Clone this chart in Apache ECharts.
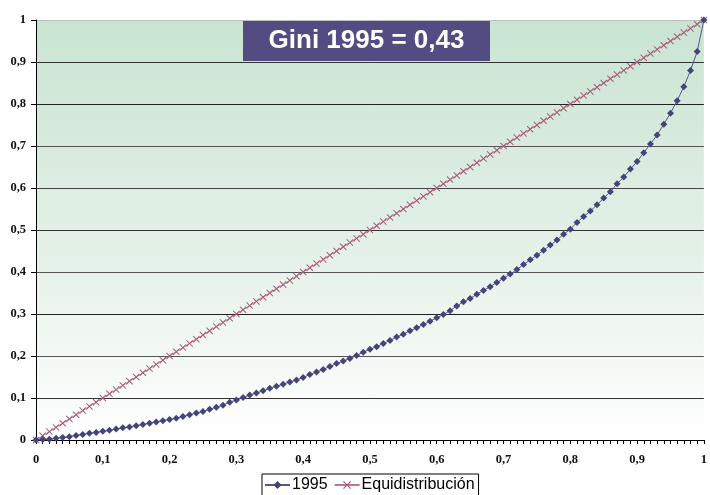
<!DOCTYPE html>
<html>
<head>
<meta charset="utf-8">
<script src="https://cdn.jsdelivr.net/npm/echarts@6/dist/echarts.min.js"></script>
<style>
  html, body { margin: 0; padding: 0; background: #fff; }
  #chart { width: 710px; height: 495px; }
</style>
</head>
<body>
<div id="chart"></div>
<script>
// population share (x) for every point of both series
const shares = [
  0, 0.01, 0.02, 0.03, 0.04, 0.05, 0.06, 0.07, 0.08, 0.09,
  0.10, 0.11, 0.12, 0.13, 0.14, 0.15, 0.16, 0.17, 0.18, 0.19,
  0.20, 0.21, 0.22, 0.23, 0.24, 0.25, 0.26, 0.27, 0.28, 0.29,
  0.30, 0.31, 0.32, 0.33, 0.34, 0.35, 0.36, 0.37, 0.38, 0.39,
  0.40, 0.41, 0.42, 0.43, 0.44, 0.45, 0.46, 0.47, 0.48, 0.49,
  0.50, 0.51, 0.52, 0.53, 0.54, 0.55, 0.56, 0.57, 0.58, 0.59,
  0.60, 0.61, 0.62, 0.63, 0.64, 0.65, 0.66, 0.67, 0.68, 0.69,
  0.70, 0.71, 0.72, 0.73, 0.74, 0.75, 0.76, 0.77, 0.78, 0.79,
  0.80, 0.81, 0.82, 0.83, 0.84, 0.85, 0.86, 0.87, 0.88, 0.89,
  0.90, 0.91, 0.92, 0.93, 0.94, 0.95, 0.96, 0.97, 0.98, 0.99,
  1
];

// Lorenz curve 1995
const lorenz1995 = [
  0, 0.001, 0.002, 0.004, 0.006, 0.008, 0.011, 0.013, 0.016, 0.018,
  0.021, 0.023, 0.026, 0.029, 0.031, 0.034, 0.037, 0.040, 0.043, 0.046,
  0.049, 0.052, 0.056, 0.060, 0.064, 0.068, 0.073, 0.078, 0.083, 0.090,
  0.095, 0.101, 0.107, 0.112, 0.117, 0.123, 0.128, 0.133, 0.138, 0.143,
  0.149, 0.156, 0.162, 0.168, 0.175, 0.182, 0.188, 0.194, 0.201, 0.209,
  0.216, 0.222, 0.230, 0.237, 0.245, 0.252, 0.260, 0.267, 0.275, 0.283,
  0.291, 0.299, 0.308, 0.319, 0.329, 0.337, 0.347, 0.356, 0.365, 0.375,
  0.385, 0.395, 0.406, 0.418, 0.429, 0.440, 0.452, 0.464, 0.476, 0.490,
  0.502, 0.518, 0.532, 0.545, 0.560, 0.576, 0.591, 0.610, 0.626, 0.645,
  0.663, 0.684, 0.705, 0.726, 0.752, 0.778, 0.808, 0.841, 0.880, 0.925,
  1
];

// perfect equality line
const equidistribucion = [
  0, 0.01, 0.02, 0.03, 0.04, 0.05, 0.06, 0.07, 0.08, 0.09,
  0.10, 0.11, 0.12, 0.13, 0.14, 0.15, 0.16, 0.17, 0.18, 0.19,
  0.20, 0.21, 0.22, 0.23, 0.24, 0.25, 0.26, 0.27, 0.28, 0.29,
  0.30, 0.31, 0.32, 0.33, 0.34, 0.35, 0.36, 0.37, 0.38, 0.39,
  0.40, 0.41, 0.42, 0.43, 0.44, 0.45, 0.46, 0.47, 0.48, 0.49,
  0.50, 0.51, 0.52, 0.53, 0.54, 0.55, 0.56, 0.57, 0.58, 0.59,
  0.60, 0.61, 0.62, 0.63, 0.64, 0.65, 0.66, 0.67, 0.68, 0.69,
  0.70, 0.71, 0.72, 0.73, 0.74, 0.75, 0.76, 0.77, 0.78, 0.79,
  0.80, 0.81, 0.82, 0.83, 0.84, 0.85, 0.86, 0.87, 0.88, 0.89,
  0.90, 0.91, 0.92, 0.93, 0.94, 0.95, 0.96, 0.97, 0.98, 0.99,
  1
];

const seriesNames = ['1995', 'Equidistribución'];
const titleText = 'Gini 1995 = 0,43';

const chart = echarts.init(document.getElementById('chart'), null, { renderer: 'canvas' });

const comma = v => String(Math.round(v * 10) / 10).replace('.', ',');
const starPath = 'path://M0,1L1,0L5,4L9,0L10,1L6,5L10,9L9,10L5,6L1,10L0,9L4,5Z';
const tickFont = {
  color: '#111',
  fontFamily: '"Liberation Serif", "Times New Roman", serif',
  fontWeight: 'bold',
  fontSize: 12.5
};

chart.setOption({
  animation: false,
  backgroundColor: '#fff',
  grid: {
    left: 36, right: 2, top: 20, bottom: 55,
    show: true,
    borderWidth: 0,
    backgroundColor: new echarts.graphic.LinearGradient(0, 0, 0, 1, [
      { offset: 0, color: '#c9e4d2' },
      { offset: 0.55, color: '#e4f1e7' },
      { offset: 1, color: '#ffffff' }
    ])
  },
  graphic: [{
    type: 'group',
    left: 243,
    top: 20,
    children: [
      { type: 'rect', shape: { x: 0, y: 0, width: 247, height: 41 }, style: { fill: '#524c82' } },
      {
        type: 'text', x: 123.5, y: 21,
        style: {
          text: titleText, fill: '#fff', align: 'center', verticalAlign: 'middle',
          font: 'bold 26px "Liberation Sans", Arial, sans-serif'
        }
      }
    ]
  }],
  legend: {
    data: seriesNames,
    left: 262,
    top: 474,
    padding: [3, 4, 4, 2],
    itemGap: 6,
    itemWidth: 25,
    itemHeight: 10,
    borderColor: '#000',
    borderWidth: 1,
    backgroundColor: '#fff',
    textStyle: { fontFamily: '"Liberation Sans", Arial, sans-serif', fontSize: 16, color: '#000', padding: [0, 0, 0, -3] }
  },
  xAxis: {
    type: 'value',
    min: 0, max: 1, interval: 0.1,
    axisLine: { lineStyle: { color: '#000', width: 1 } },
    axisTick: { show: true, length: 4, lineStyle: { color: '#000' } },
    minorTick: { show: true, splitNumber: 10, length: 4, lineStyle: { color: '#000' } },
    splitLine: { show: false },
    axisLabel: Object.assign({ margin: 13, formatter: comma }, tickFont)
  },
  yAxis: {
    type: 'value',
    min: 0, max: 1, interval: 0.1,
    axisLine: { show: true, lineStyle: { color: '#000', width: 1 } },
    axisTick: { show: true, length: 5, lineStyle: { color: '#000' } },
    splitLine: {
      show: true,
      lineStyle: {
        color: ['#333', '#333', '#555', '#222', '#555', '#333', '#444', '#555', '#222', '#333', '#bdbdbd'],
        width: 1
      }
    },
    axisLabel: Object.assign({ margin: 10, formatter: comma }, tickFont)
  },
  series: [
    {
      name: seriesNames[0],
      type: 'line',
      data: shares.map((x, i) => [x, lorenz1995[i]]),
      symbol: 'diamond',
      symbolSize: 7,
      showAllSymbol: true,
      itemStyle: { color: '#44447a' },
      lineStyle: { color: '#56568a', width: 1 },
      z: 3
    },
    {
      name: seriesNames[1],
      type: 'line',
      data: shares.map((x, i) => [x, equidistribucion[i]]),
      symbol: starPath,
      symbolSize: 7,
      showAllSymbol: true,
      itemStyle: { color: '#a85878' },
      lineStyle: { color: '#b87a90', width: 1 },
      z: 2
    }
  ]
});
</script>
</body>
</html>
